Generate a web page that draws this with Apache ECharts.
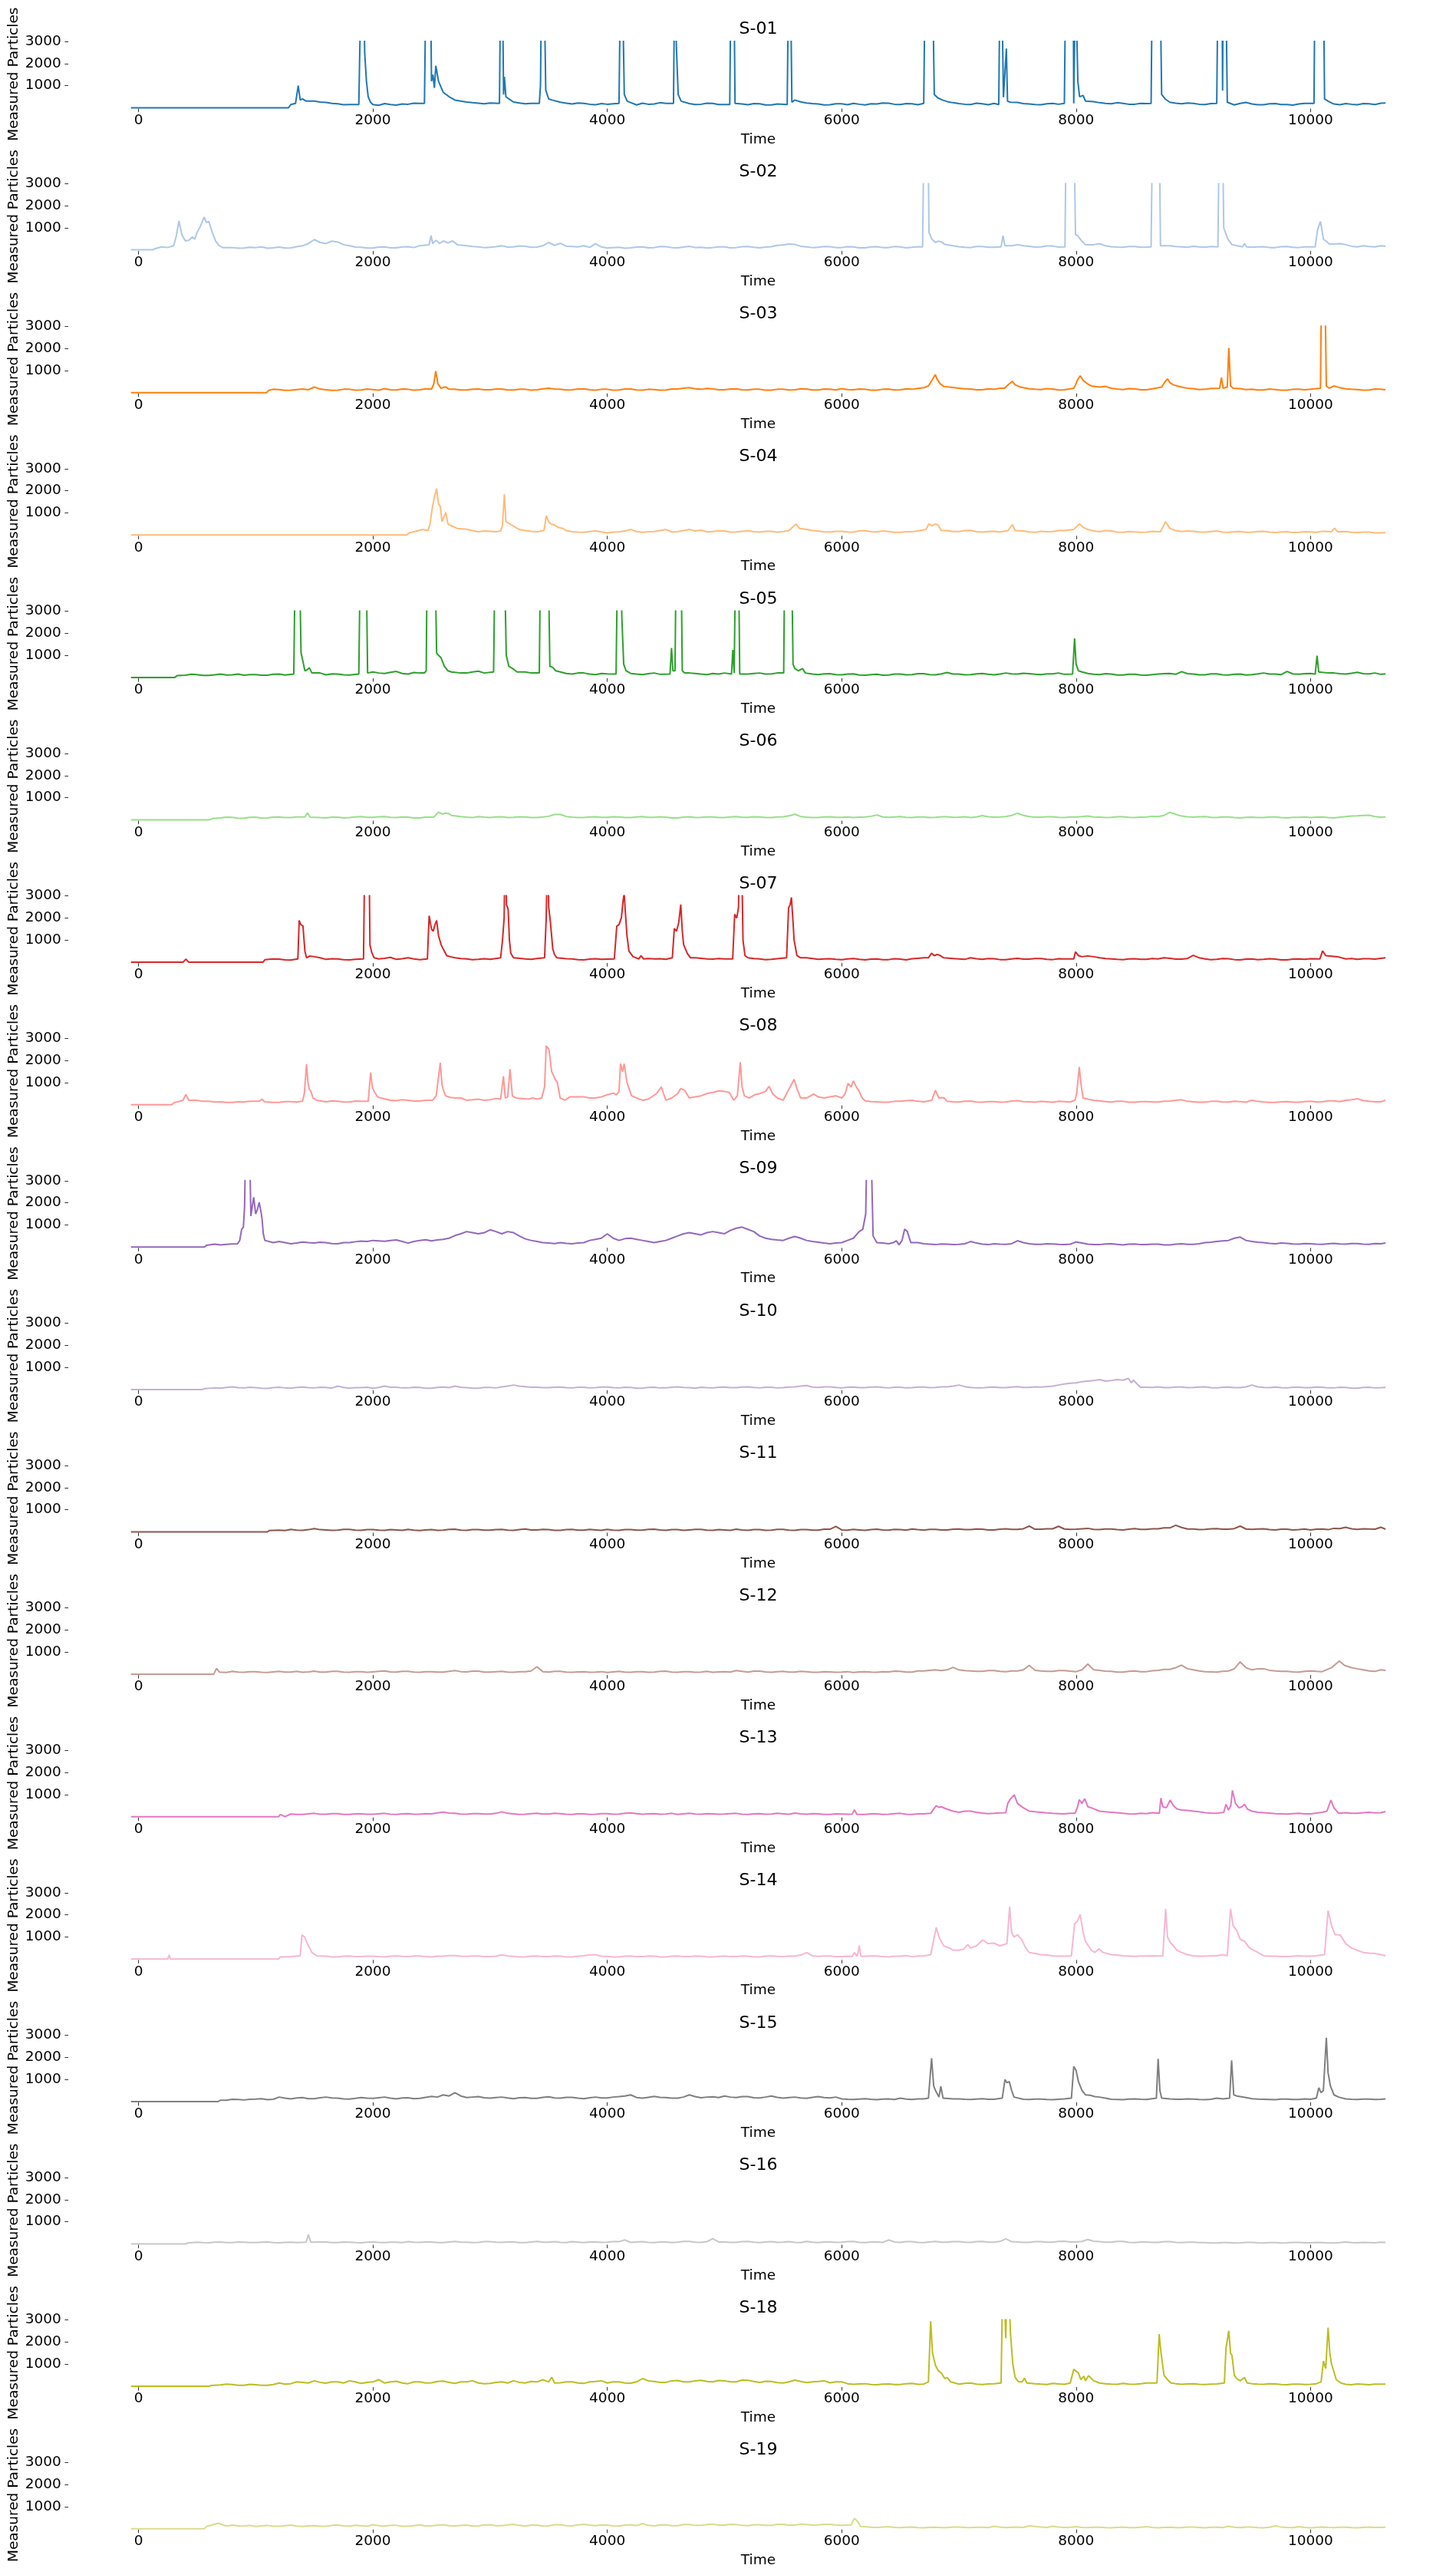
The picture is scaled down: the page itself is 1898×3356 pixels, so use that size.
<!DOCTYPE html>
<html><head><meta charset="utf-8">
<script src="https://cdn.jsdelivr.net/npm/echarts@6/dist/echarts.min.js"></script>
<style>html,body{margin:0;padding:0;background:#fff}#c{width:1898px;height:3356px}</style>
</head><body><div id="c"></div>
<script>
const seriesNames = ['S-01','S-02','S-03','S-04','S-05','S-06','S-07','S-08','S-09','S-10','S-11','S-12','S-13','S-14','S-15','S-16','S-18','S-19'];
const lineColors = ['#1f77b4','#aec7e8','#ff7f0e','#ffbb78','#2ca02c','#98df8a','#d62728','#ff9896','#9467bd','#c5b0d5','#8c564b','#c49c94','#e377c2','#f7b6d2','#7f7f7f','#c7c7c7','#bcbd22','#dbdb8d'];
const xTicks = [0,2000,4000,6000,8000,10000];
const yTicks = [1000,2000,3000];
const baseStep = 50; // base samples at Time = 0,50,...,10600 (one row = 1000 time units)

const s01Base = [
0,0,0,0,0,0,0,0,0,0,0,0,0,0,0,0,0,0,0,0,
0,0,0,0,0,0,150,200,380,330,300,260,240,200,180,140,150,190,150,150,
140,110,190,150,120,170,160,210,200,150,200,250,700,500,330,300,260,230,210,180,
220,170,400,330,260,220,180,200,140,180,300,280,250,210,170,220,200,160,140,190,
160,180,300,200,150,130,210,160,170,230,200,180,250,220,190,150,160,210,200,150,
150,130,200,170,140,190,180,130,130,170,200,160,350,270,220,190,170,130,140,180,
180,140,200,160,130,180,170,220,210,160,150,190,180,140,200,220,500,400,280,230,
190,160,150,210,180,140,200,170,300,300,240,190,170,150,140,180,200,160,200,200,
300,300,380,280,230,200,180,230,200,160,160,200,190,220,320,300,250,210,180,220,
200,160,150,190,200,160,160,130,200,240,170,140,140,180,190,150,150,120,170,200,
300,300,260,200,170,140,190,160,140,190,180,150,210];
const s01Events = [[-64,0],[1280,0],[1300,150],[1340,200],[1363,1000],[1380,350],[1400,400],[1430,300],
[1880,150],[1900,6000],[1920,6000],[1930,2500],[1945,1200],[1960,500],[1980,250],[2000,150],
[2440,200],[2453,6000],[2491,6000],[2500,1200],[2512,1500],[2525,900],[2537,1900],[2560,1200],[2600,700],[2650,500],[2700,350],
[3080,200],[3090,6000],[3105,6000],[3115,600],[3122,1400],[3135,500],[3160,400],
[3420,200],[3430,1000],[3440,6000],[3460,6000],[3475,800],[3500,400],[3530,350],
[4100,200],[4113,6000],[4128,6000],[4145,600],[4170,300],
[4565,200],[4575,6000],[4590,2700],[4605,600],[4630,300],
[5045,150],[5055,6000],[5080,6000],[5090,200],
[5535,150],[5547,6000],[5563,6000],[5575,250],[5600,350],
[6700,200],[6712,6000],[6775,6000],[6790,600],[6820,450],[6860,350],
[7340,150],[7351,6000],[7365,6000],[7380,480],[7392,500],[7405,2680],[7415,300],[7440,250],
[7900,200],[7911,6000],[7975,6000],[7980,200],[7995,6000],[8000,6000],[8015,1200],[8030,500],[8060,560],[8080,300],
[8640,200],[8650,6000],[8716,6000],[8730,600],[8760,400],
[9200,200],[9211,6000],[9245,6000],[9250,780],[9255,6000],[9277,6000],[9290,250],
[10030,200],[10038,6000],[10110,6000],[10120,400],[10150,300],[10640,220]];

const s02Base = [
20,20,100,120,170,150,200,700,420,450,800,1300,400,200,150,130,120,90,100,130,
120,150,90,110,140,100,110,160,200,300,480,350,300,410,370,250,200,140,130,100,
100,140,150,110,110,150,160,120,200,220,300,300,400,350,320,250,200,170,150,120,
130,160,200,140,150,190,180,130,140,200,350,220,310,180,170,150,200,130,290,150,
100,120,130,90,110,140,150,110,120,170,160,120,110,140,180,120,130,100,120,150,
150,110,120,160,170,130,110,140,160,220,240,280,260,180,150,120,130,170,160,120,
120,160,150,110,110,150,160,120,120,170,150,110,130,160,200,800,410,380,280,200,
160,130,120,170,170,130,130,150,200,200,250,200,180,140,150,190,190,140,200,200,
300,400,220,250,300,200,160,140,130,170,170,130,140,200,200,200,200,170,150,130,
180,150,130,170,200,200,400,300,250,160,130,150,160,120,120,160,170,130,120,150,
150,200,400,300,280,300,250,180,150,200,170,150,200];
const s02Events = [[-64,20],[120,20],[150,80],[200,150],[250,120],[300,200],[325,700],[345,1330],[370,700],[400,420],[430,450],[460,600],[480,500],[500,800],[530,1100],[560,1500],[580,1250],[600,1300],[630,800],[660,400],[690,200],[720,120],
[2480,250],[2496,660],[2510,300],[2540,450],[2570,300],[2600,420],[2640,330],[2680,420],[2720,250],
[6690,150],[6704,6000],[6735,6000],[6745,800],[6770,500],[6800,350],[6822,410],[6850,380],[6880,260],
[7360,150],[7377,660],[7392,200],
[7905,150],[7916,6000],[7980,6000],[7995,700],[8011,680],[8050,400],[8080,250],
[8640,150],[8653,6000],[8709,6000],[8720,200],
[9210,150],[9223,6000],[9247,6000],[9260,1000],[9295,500],[9330,250],[9420,150],[9437,300],[9455,150],
[10040,150],[10060,900],[10071,1100],[10085,1300],[10095,1000],[10110,500],[10135,400],[10160,280],[10640,180]];

const s03Base = [
0,0,0,0,0,0,0,0,0,0,0,0,0,0,0,0,0,0,0,0,
0,0,120,150,140,100,110,140,160,130,250,160,130,100,110,150,150,110,120,160,
140,110,180,130,120,160,150,110,130,170,150,300,200,230,150,120,120,150,160,130,
130,160,160,120,120,150,150,110,130,170,200,160,150,120,130,160,170,130,110,150,
150,110,120,160,160,120,110,150,140,110,120,160,160,200,220,170,150,190,170,130,
130,160,170,130,120,150,150,110,110,150,150,120,130,170,160,120,120,160,150,120,
180,140,130,160,150,110,110,150,160,120,130,170,150,190,220,250,300,350,300,230,
200,170,160,130,130,170,150,200,200,300,260,200,170,150,140,180,160,120,130,170,
200,400,400,350,250,280,200,160,140,180,170,130,130,170,200,250,400,500,250,200,
180,140,150,190,200,250,200,200,180,140,150,120,120,160,140,110,110,150,150,130,
150,180,200,250,300,220,170,150,140,110,120,160,150];
const s03Events = [[-64,0],[1094,0],[1110,100],[2500,150],[2520,400],[2536,970],[2555,400],[2580,200],[2620,260],[2650,150],
[6740,300],[6770,550],[6799,810],[6815,600],[6840,400],[6870,280],
[7390,200],[7420,350],[7456,510],[7480,350],[7520,260],
[7980,200],[7995,350],[8010,550],[8035,760],[8060,550],[8090,420],[8130,300],
[8730,250],[8760,500],[8780,620],[8800,450],[8830,350],
[9225,200],[9240,680],[9255,200],[9290,250],[9303,2020],[9318,300],[9340,200],
[10085,200],[10096,6000],[10120,6000],[10135,300],[10160,200],[10640,130]];

const s04Base = [
0,0,0,0,0,0,0,0,0,0,0,0,0,0,0,0,0,0,0,0,
0,0,0,0,0,0,0,0,0,0,0,0,0,0,0,0,0,0,0,0,
0,0,0,0,0,0,100,120,200,250,300,300,300,400,350,300,260,200,150,180,
170,150,200,300,300,250,200,170,150,200,300,500,300,220,150,130,120,160,180,140,
100,130,140,180,250,160,120,150,160,200,250,140,150,200,250,180,220,140,160,190,
180,130,140,170,190,150,130,170,170,130,160,250,300,400,250,200,180,140,140,170,
170,140,130,180,200,150,140,180,160,120,120,150,150,180,200,450,300,400,200,160,
160,200,210,150,130,160,170,140,200,350,150,180,140,120,170,150,160,200,200,180,
200,400,250,180,150,200,180,130,120,160,140,120,130,170,200,400,200,250,160,180,
170,140,130,160,180,130,120,150,160,120,130,160,170,130,110,140,150,110,120,150,
140,120,170,150,310,200,160,120,110,130,130,100,100];
const s04Events = [[-64,0],[2290,0],[2310,100],[2350,150],[2425,250],[2470,200],[2488,500],[2500,1000],[2520,1600],[2544,2100],[2560,1400],[2575,1300],[2590,600],[2605,800],[2623,1020],[2640,500],[2678,400],[2720,300],
[3090,180],[3105,400],[3122,1850],[3135,600],[3170,500],[3200,400],[3250,250],
[3460,200],[3479,870],[3500,600],[3518,500],[3550,450],[3580,350],[3620,300],[3650,200],
[5550,200],[5580,350],[5610,500],[5640,300],
[6720,250],[6743,500],[6770,420],[6800,500],[6822,450],[6850,200],
[7420,200],[7456,470],[7480,200],
[7980,250],[8027,510],[8060,350],
[8720,150],[8764,600],[8800,300],[8850,200],
[10180,150],[10206,310],[10230,150],[10640,110]];

const s05Base = [
0,0,0,0,0,0,0,60,100,140,130,90,90,120,150,110,120,150,100,130,
130,100,100,140,150,110,200,200,200,200,200,200,120,160,150,120,110,150,200,200,
250,200,180,230,270,180,150,220,200,200,200,200,200,250,300,200,200,250,280,200,
300,250,200,200,300,200,250,200,200,200,200,200,250,180,150,200,200,150,130,180,
160,200,200,200,180,150,130,170,200,140,150,200,200,200,200,180,150,130,180,150,
200,200,200,200,150,180,200,150,160,200,200,200,300,300,200,150,130,160,170,130,
120,150,160,110,100,130,140,100,110,150,150,120,130,170,170,130,120,160,220,150,
150,120,130,160,180,140,120,150,200,160,150,190,170,140,130,160,160,200,140,120,
200,200,180,140,130,170,150,110,110,140,140,110,100,130,150,170,180,140,260,170,
150,120,120,160,160,120,110,140,150,110,130,160,200,150,150,130,270,160,140,170,
180,150,250,200,200,170,150,190,230,170,160,200,140];
const s05Events = [[-64,0],[309,0],[330,80],
[1325,150],[1339,6000],[1371,6000],[1387,1120],[1400,800],[1420,300],[1440,350],[1458,435],[1480,200],
[1880,150],[1894,6000],[1941,6000],[1955,200],
[2440,200],[2455,300],[2464,6000],[2528,6000],[2544,1100],[2560,1000],[2580,900],[2610,500],[2640,300],[2670,250],
[3030,250],[3043,6000],[3120,6000],[3138,1000],[3160,500],[3193,400],[3230,250],
[3420,200],[3431,6000],[3495,6000],[3510,500],[3534,460],[3560,300],
[4075,150],[4089,6000],[4110,6000],[4125,2600],[4140,600],[4160,300],
[4535,150],[4548,1330],[4560,300],[4578,300],[4588,6000],[4628,6000],[4640,300],[4660,200],
[5060,150],[5071,1240],[5083,200],[5095,6000],[5119,6000],[5130,150],
[5505,200],[5515,6000],[5571,6000],[5585,600],[5600,400],[5630,300],[5666,400],[5690,200],
[7970,150],[7987,1760],[8000,600],[8020,300],[8050,250],
[10040,150],[10056,980],[10070,250],[10640,160]];

const s06Base = [
0,0,0,0,0,0,0,0,0,0,0,0,0,60,90,120,110,70,80,110,
120,80,90,120,130,100,100,130,150,200,130,100,90,120,120,90,100,130,150,110,
110,140,150,110,100,130,120,90,90,120,150,350,300,260,200,150,120,100,150,120,
100,130,140,100,110,140,130,100,100,130,160,240,240,150,120,100,100,130,140,110,
110,140,130,100,100,130,150,110,110,140,120,90,90,120,140,100,110,130,130,100,
100,130,150,110,110,140,130,100,100,130,140,180,250,150,120,100,100,130,140,110,
110,130,100,120,130,160,220,130,110,130,150,110,100,130,130,100,110,140,140,110,
120,140,100,130,190,140,120,130,150,200,300,200,150,120,120,140,140,110,100,130,
130,150,170,130,120,100,110,140,140,110,100,120,130,160,150,200,340,250,170,140,
120,140,150,110,100,130,130,100,90,110,120,100,100,130,130,100,90,110,110,130,
100,120,130,100,90,120,150,170,180,200,210,150,120];
const s06Events = [[-64,0],[610,0],[630,60],[1420,130],[1442,310],[1465,120],[2520,120],[2560,350],[2590,260],[2620,300],[2647,280],[2670,200],[10640,130]];

const s07Base = [
0,0,0,0,0,0,0,0,0,0,0,0,0,0,0,0,0,0,0,0,
0,0,120,150,140,110,100,130,200,250,250,200,130,160,150,120,110,130,150,150,
200,150,180,220,130,160,200,150,120,160,150,200,200,300,200,170,150,120,130,160,
130,170,200,200,200,180,150,130,170,200,200,200,130,160,150,120,110,140,160,130,
140,150,200,200,200,200,300,170,150,160,130,150,200,200,200,200,180,150,140,170,
150,130,200,200,200,170,150,120,130,160,200,200,200,200,200,170,130,150,160,130,
120,150,170,130,110,140,150,120,120,160,140,110,160,180,200,250,300,350,200,170,
150,130,200,160,130,170,160,120,120,150,180,140,140,170,170,130,120,160,150,170,
200,300,285,250,200,170,150,130,120,150,160,130,130,170,150,200,180,140,140,170,
310,200,150,120,130,170,160,120,110,140,150,120,130,160,140,110,110,140,150,130,
160,130,200,200,200,250,150,170,130,160,160,140,180];
const s07Events = [[-64,0],[380,0],[404,140],[430,0],[1062,0],[1080,120],
[1360,150],[1371,1890],[1385,1700],[1403,1650],[1420,500],[1434,200],[1460,280],
[1920,150],[1933,6000],[1965,6000],[1975,780],[1990,450],[2010,200],
[2465,150],[2480,2100],[2500,1500],[2515,1400],[2530,1700],[2544,1890],[2560,1200],[2583,780],[2600,600],[2630,300],[2660,250],
[3090,200],[3106,1000],[3120,2000],[3130,6000],[3140,2600],[3154,2400],[3165,1000],[3177,400],[3200,200],
[3465,200],[3479,2000],[3492,6000],[3500,2500],[3515,1800],[3535,600],[3550,350],[3570,200],
[4060,150],[4081,1630],[4100,1700],[4120,2000],[4135,2800],[4144,3100],[4155,2200],[4168,1200],[4185,500],[4220,250],
[4270,150],[4287,300],[4310,150],
[4555,200],[4572,1530],[4590,1400],[4610,1800],[4627,2610],[4640,1400],[4651,800],[4683,400],[4710,200],
[5070,150],[5087,2170],[5105,2000],[5120,2500],[5127,6000],[5143,6000],[5158,1000],[5175,300],[5200,200],
[5530,200],[5547,2460],[5560,2600],[5571,2930],[5585,1800],[5594,1000],[5618,300],[5650,200],
[6740,200],[6767,410],[6790,300],[6815,350],[6838,310],[6870,200],
[7980,150],[7995,470],[8020,300],[8050,250],
[10080,150],[10103,510],[10130,300],[10230,250],[10640,200]];

const s08Base = [
0,0,0,0,0,0,80,120,200,460,200,150,150,120,130,100,100,130,120,150,
150,200,130,100,100,140,140,120,200,200,200,200,130,170,150,120,120,160,150,150,
300,300,250,200,180,220,200,160,160,200,200,300,300,400,300,300,200,220,250,200,
220,280,300,300,300,300,300,250,250,300,300,300,300,300,300,350,350,300,300,350,
450,500,500,500,400,300,200,250,350,500,200,300,500,500,400,350,400,500,550,600,
600,550,400,400,300,400,500,500,600,600,200,300,500,800,300,300,350,300,350,400,
300,500,500,800,170,140,130,110,110,150,150,180,200,150,130,200,200,300,160,130,
120,150,160,120,110,140,140,110,120,160,180,140,130,110,150,130,110,150,140,120,
200,400,250,200,170,140,120,150,150,110,110,140,140,120,120,150,160,200,220,150,
130,110,110,150,150,120,120,150,140,110,200,150,120,100,100,130,140,110,110,140,
150,120,130,170,170,140,200,220,270,180,150,130,130];
const s08Events = [[-64,0],[285,0],[300,80],[380,200],[404,460],[430,200],
[1030,150],[1054,250],[1075,130],
[1400,150],[1415,500],[1434,1830],[1446,1000],[1458,700],[1470,600],[1490,300],[1520,200],
[1960,150],[1981,1450],[1995,800],[2010,600],[2040,350],[2068,300],
[2510,200],[2540,400],[2575,1890],[2590,900],[2599,700],[2620,400],[2660,330],[2702,300],
[3090,250],[3114,1290],[3130,300],[3150,350],[3170,1610],[3190,400],[3220,300],
[3330,250],[3360,300],[3400,250],[3440,300],[3465,800],[3479,2660],[3502,2500],[3525,1500],[3550,1200],[3574,1000],[3598,300],[3640,200],[3680,350],
[4050,520],[4080,450],[4100,600],[4113,1850],[4130,1500],[4144,1850],[4168,1000],[4207,400],[4250,300],
[4420,500],[4461,800],[4480,500],[4500,200],[4550,300],[4600,500],[4628,730],[4660,650],[4700,300],
[4953,620],[5040,550],[5080,200],[5110,400],[5135,1920],[5150,800],[5170,400],[5210,300],[5260,450],[5300,500],[5350,600],[5380,830],[5410,500],[5450,300],[5500,200],[5530,500],[5560,800],[5594,1140],[5620,700],[5650,300],
[5761,480],[5800,350],[5850,300],
[5950,400],[6000,300],[6030,500],[6054,960],[6080,800],[6100,1080],[6125,800],[6149,600],[6175,300],[6200,170],
[6770,200],[6799,650],[6830,300],[6870,320],[6900,150],
[7990,200],[8005,500],[8027,1700],[8045,800],[8060,300],[10640,200]];

const s09Base = [
0,0,0,0,0,0,0,0,0,0,0,0,100,130,100,120,140,150,200,200,
300,300,280,200,250,200,150,180,230,200,180,220,200,160,150,200,200,240,270,250,
300,280,260,300,320,250,180,250,300,330,280,320,350,400,520,600,700,650,600,650,
780,700,600,700,650,500,370,300,250,200,180,160,200,170,150,180,200,300,350,400,
600,400,300,380,400,350,300,250,200,250,300,400,500,600,650,600,550,650,700,650,
600,750,850,900,800,700,500,400,350,320,300,400,480,400,300,250,220,180,150,180,
200,300,400,700,300,500,200,180,150,170,200,250,200,200,150,130,110,140,130,110,
120,150,250,180,130,110,150,130,120,150,285,200,150,120,120,150,140,120,110,130,
230,180,130,110,110,140,150,120,100,130,140,110,110,130,130,100,100,130,150,120,
120,150,200,220,250,280,300,400,450,300,250,220,200,170,150,180,170,140,130,160,
150,130,120,150,170,140,130,160,160,130,120,160,150];
const s09Events = [[-64,0],[563,0],[580,80],
[845,150],[864,300],[880,800],[895,900],[905,1800],[919,6000],[943,6000],[959,1400],[970,1800],[983,2250],[1000,1500],[1015,1700],[1030,2020],[1045,1600],[1054,1300],[1065,600],[1078,300],
[6100,400],[6149,700],[6180,800],[6205,1500],[6220,6000],[6244,6000],[6268,500],[6300,200],
[6440,200],[6466,285],[6490,100],[6515,300],[6537,810],[6560,700],[6590,200],[10640,180]];

const s10Base = [
0,0,0,0,0,0,0,0,0,0,0,0,90,70,60,90,120,80,70,100,
80,60,50,80,100,70,60,90,110,80,70,100,90,60,150,90,60,80,80,100,
60,90,150,100,100,70,70,100,90,60,60,90,110,80,150,100,80,60,60,90,
90,70,120,150,200,150,130,100,100,80,80,100,110,80,70,100,100,70,80,110,
110,80,70,100,90,60,60,90,100,70,70,100,120,90,80,60,100,80,70,100,
110,80,80,110,120,90,70,100,100,70,80,110,120,150,180,110,90,120,120,90,
70,100,110,80,80,110,120,90,70,100,100,70,80,110,110,80,90,120,120,150,
200,130,90,70,70,100,110,80,80,110,130,90,90,120,110,130,150,200,250,280,
300,350,380,400,450,380,400,450,420,500,300,150,100,90,120,80,80,110,110,80,
90,110,120,80,70,100,110,80,80,120,200,120,90,80,110,80,70,100,100,80,
80,110,100,70,70,100,90,60,60,90,100,70,80];
const s10Events = [[-64,0],[547,0],[565,40],[8447,500],[8470,300],[8490,420],[8520,250],[8550,100],[10640,90]];

const s11Base = [
0,0,0,0,0,0,0,0,0,0,0,0,0,0,0,0,0,0,0,0,
0,0,60,90,80,60,110,80,70,100,150,100,90,70,80,110,110,80,70,100,
100,80,70,100,90,70,110,80,60,90,100,70,80,110,120,80,70,100,100,80,
80,100,110,80,70,100,130,90,90,110,100,70,70,100,110,80,80,110,90,70,
110,80,70,100,100,80,80,110,120,90,70,100,100,70,90,110,110,80,70,100,
90,70,120,90,70,100,100,70,80,110,110,80,70,100,100,80,80,120,120,250,
90,80,110,90,70,100,120,90,80,110,100,80,130,100,80,110,110,90,90,120,
130,100,100,130,120,90,90,120,140,110,110,140,260,120,120,140,140,250,130,110,
120,140,160,110,100,130,130,100,90,120,150,110,110,140,140,180,180,300,200,130,
130,100,110,140,150,120,120,150,260,130,110,130,140,100,90,120,120,90,100,130,
90,120,130,100,160,150,210,140,110,140,130,120,210];
const s11Events = [[-64,0],[1101,0],[1115,60],[10640,120]];

const s12Base = [
0,0,0,0,0,0,0,0,0,0,0,0,0,0,100,80,130,100,90,120,
120,90,80,110,130,100,100,130,90,110,140,100,100,130,130,100,90,120,120,90,
110,130,150,110,100,130,130,100,90,120,120,100,100,130,170,120,110,140,140,100,
100,120,130,100,90,120,120,150,340,120,100,130,130,100,90,110,120,90,100,120,
80,110,130,100,90,120,120,90,100,130,140,100,90,120,120,90,100,130,90,110,
120,100,170,130,100,140,140,110,90,120,130,100,100,130,120,90,90,120,110,90,
100,120,80,110,120,100,90,120,110,140,130,100,100,150,150,180,200,170,200,310,
200,170,150,130,130,170,170,130,120,150,150,200,400,180,150,130,130,170,170,140,
120,200,460,200,180,140,130,100,100,130,150,120,120,160,180,220,220,300,410,250,
200,150,120,110,100,130,150,250,560,300,200,250,250,180,150,130,130,110,100,130,
150,130,120,150,300,400,400,300,250,200,150,130,200];
const s12Events = [[-64,0],[642,0],[666,270],[690,100],[10180,300],[10246,600],[10290,400],[10350,300],[10640,180]];

const s13Base = [
0,0,0,0,0,0,0,0,0,0,0,0,0,0,0,0,0,0,0,0,
0,0,0,0,0,0,120,100,100,130,150,110,110,140,140,100,100,130,130,110,
110,130,150,110,100,130,140,110,110,140,130,170,210,160,150,120,110,140,140,120,
120,150,220,150,130,100,110,140,150,120,120,150,140,110,100,130,130,100,110,140,
140,110,120,150,170,140,110,130,140,110,120,150,100,130,150,120,110,140,130,110,
120,140,150,110,100,130,140,110,120,150,130,110,160,130,110,140,130,100,100,130,
120,110,150,120,100,130,130,100,110,140,150,110,100,130,130,120,300,300,300,250,
200,220,250,200,160,140,150,170,200,180,300,300,250,220,200,170,150,140,130,150,
200,300,400,300,250,220,200,180,150,130,120,150,140,180,200,300,400,400,300,280,
250,220,180,160,150,200,300,300,400,300,250,200,180,160,140,130,120,140,150,130,
130,160,200,250,300,250,180,150,150,180,200,170,180];
const s13Events = [[-64,0],[1196,0],[1210,100],[6090,120],[6109,310],[6130,100],
[6760,150],[6785,350],[6807,500],[6830,420],[6850,450],[6880,380],[6920,300],[6950,250],[7050,250],
[7400,180],[7417,600],[7440,800],[7472,990],[7500,600],[7550,400],[7600,250],
[7990,150],[8010,400],[8027,770],[8050,600],[8074,810],[8100,450],[8130,400],[8200,250],
[8710,150],[8724,840],[8740,450],[8770,400],[8803,750],[8830,500],[8860,350],
[9260,200],[9279,560],[9300,300],[9320,500],[9334,1190],[9360,600],[9390,400],[9415,450],[9437,560],[9460,350],[9500,250],
[10140,250],[10174,750],[10200,400],[10240,150],[10640,230]];

const s14Base = [
0,0,0,0,0,0,0,0,0,0,0,0,0,0,0,0,0,0,0,0,
0,0,0,0,0,100,110,130,200,200,200,150,130,100,100,130,140,110,110,130,
130,110,100,130,150,120,110,140,140,110,100,130,130,160,160,130,120,140,140,110,
110,130,190,140,120,100,100,130,140,110,110,140,130,100,100,130,150,190,190,130,
120,100,100,130,140,110,110,140,130,100,100,130,140,110,110,140,130,100,100,120,
140,110,110,140,130,100,100,130,150,120,110,140,130,180,290,150,120,140,140,110,
110,130,150,300,110,140,140,110,100,130,130,160,110,140,140,200,200,500,500,500,
400,450,500,600,800,700,700,700,700,700,900,500,300,250,200,180,150,130,130,150,
150,700,800,400,300,470,200,180,150,140,120,140,140,150,140,700,800,400,300,200,
150,130,130,150,150,200,200,1500,900,800,500,400,150,130,130,110,110,130,150,130,
130,150,200,1000,1100,1090,700,500,400,300,270,250,200];
const s14Events = [[-64,0],[250,0],[261,190],[272,0],[1196,0],[1210,100],
[1380,150],[1395,1090],[1418,1000],[1440,700],[1480,300],[1520,150],
[6090,120],[6109,300],[6130,120],[6140,300],[6149,600],[6165,120],
[6760,200],[6790,1000],[6807,1430],[6830,1000],[6870,600],[6920,500],[6950,400],
[7040,450],[7076,660],[7100,500],[7150,600],[7203,870],[7250,700],[7298,720],[7350,600],[7410,700],[7433,2370],[7450,1200],[7470,1000],[7500,1100],[7535,900],[7570,500],[7600,300],
[7960,150],[7987,1590],[8010,1700],[8035,2020],[8060,1200],[8080,800],[8130,400],[8160,300],[8194,470],[8230,300],
[8740,150],[8764,2270],[8780,1000],[8800,780],[8830,600],[8860,400],
[9290,150],[9318,2270],[9340,1500],[9370,1300],[9400,900],[9437,800],[9480,500],[9550,300],[9600,150],
[10120,200],[10150,2190],[10180,1500],[10210,1100],[10254,1090],[10300,700],[10350,500],[10450,300],[10550,250],[10640,150]];

const s15Base = [
0,0,0,0,0,0,0,0,0,0,0,0,0,0,80,60,100,90,70,100,
110,130,80,100,200,150,120,160,180,130,130,170,200,160,150,120,110,140,180,150,
140,170,200,150,120,160,170,130,140,190,230,200,300,250,400,250,180,200,220,170,
150,180,200,160,130,170,180,140,140,190,210,160,150,190,190,150,130,170,200,160,
160,200,220,250,300,180,150,190,230,190,180,150,150,200,300,220,170,200,210,180,
250,200,180,220,220,170,160,200,250,190,150,180,200,160,140,190,220,180,160,200,
120,100,90,110,130,100,80,110,120,90,150,110,90,120,120,150,200,200,100,120,
120,100,90,110,130,100,100,120,200,200,120,100,90,110,110,90,80,100,120,100,
200,200,250,250,200,150,100,90,80,110,120,100,90,110,200,200,120,100,100,120,
110,90,80,100,150,120,200,200,250,180,130,110,100,90,80,110,110,90,90,120,
100,150,200,200,200,150,120,100,90,110,110,90,100];
const s15Events = [[-64,0],[681,0],[700,60],
[6740,150],[6767,1950],[6785,700],[6800,500],[6830,200],[6846,680],[6865,150],
[7370,150],[7393,990],[7410,850],[7430,900],[7450,500],[7470,200],
[7960,150],[7980,1580],[8000,1400],[8020,900],[8050,500],[8080,300],[8120,280],[8160,220],
[8685,150],[8700,1930],[8715,500],[8730,150],
[9310,150],[9327,1860],[9345,300],[9370,250],
[10050,150],[10071,620],[10090,400],[10110,500],[10135,2880],[10150,1300],[10170,700],[10200,300],[10240,200],[10640,120]];

const s16Base = [
0,0,0,0,0,0,0,0,0,60,80,60,50,80,90,60,60,90,80,60,
60,80,90,60,50,70,80,60,100,100,70,90,90,60,60,90,80,60,50,80,
90,70,60,80,80,60,100,80,70,90,90,60,60,90,110,80,80,60,70,100,
100,80,70,90,90,60,60,90,110,80,80,100,70,60,100,80,60,90,90,70,
80,100,100,180,70,90,100,70,60,90,90,60,80,110,110,80,70,100,240,90,
90,70,70,100,110,80,60,90,100,70,80,100,70,60,110,80,60,90,90,70,
80,100,110,70,60,90,90,70,180,90,70,100,100,70,60,90,110,80,80,100,
100,80,70,100,110,80,80,110,230,100,90,70,70,100,100,80,80,110,120,90,
90,110,200,120,100,80,80,110,110,70,60,90,90,70,70,100,100,70,60,80,
80,60,60,40,40,60,60,40,50,70,70,50,40,60,60,40,50,70,70,50,
50,70,60,40,40,60,90,60,50,70,60,50,80];
const s16Events = [[-64,0],[404,0],[420,40],[1430,80],[1450,420],[1470,80],[10640,70]];

const s18Base = [
0,0,0,0,0,0,0,0,0,0,0,0,0,40,60,100,80,50,50,90,
70,50,50,80,150,100,120,200,180,150,250,180,140,200,200,150,250,200,130,180,
200,300,150,200,230,150,120,200,200,150,160,220,240,180,130,200,200,250,150,120,
130,180,200,150,250,180,150,220,200,300,200,200,160,200,200,150,130,200,220,250,
150,200,200,150,140,200,350,250,220,180,180,250,260,200,200,250,270,220,200,260,
250,200,200,280,270,220,180,230,220,170,150,200,280,220,170,200,220,250,160,200,
200,120,90,110,120,80,70,100,110,80,80,120,130,90,100,150,200,200,300,200,
100,130,150,100,80,110,120,150,200,200,300,200,150,120,100,80,130,110,90,120,
200,300,250,250,150,120,100,90,130,100,90,120,150,150,150,200,150,120,90,110,
120,90,80,100,110,150,200,200,300,250,120,100,90,120,110,80,70,100,100,80,
90,120,200,200,200,150,90,70,110,90,70,100,100];
const s18Events = [[-64,0],[602,0],[620,40],[3500,200],[3526,410],[3550,150],
[6740,200],[6759,2940],[6775,1500],[6800,950],[6825,700],[6850,600],[6880,350],[6900,400],[6930,200],
[7360,150],[7377,6000],[7400,2170],[7417,6000],[7440,2400],[7460,1000],[7480,400],[7510,200],[7540,200],[7559,370],[7580,150],
[7950,150],[7980,770],[8020,600],[8040,300],[8066,460],[8080,250],[8106,480],[8150,250],
[8690,150],[8709,2360],[8725,1500],[8750,500],[8780,300],[8810,150],
[9265,150],[9279,1720],[9303,2510],[9318,1500],[9330,1400],[9350,500],[9370,350],[9400,250],[9437,400],[9460,150],
[10090,200],[10111,1140],[10130,800],[10150,2650],[10165,1500],[10180,1000],[10220,300],[10260,150],[10640,100]];

const s19Base = [
0,0,0,0,0,0,0,0,0,0,0,0,100,250,150,120,160,130,120,150,
100,130,150,110,110,140,160,120,100,130,140,110,110,150,170,130,120,150,140,110,
180,140,120,150,150,110,110,140,170,130,130,160,180,140,120,150,160,120,130,170,
180,140,140,170,200,150,120,160,160,120,130,180,180,140,130,170,200,160,140,170,
160,130,120,160,180,140,230,150,130,170,180,140,140,190,190,150,150,190,210,160,
160,200,190,150,140,180,180,150,150,200,200,160,160,210,190,160,170,200,200,170,
150,170,200,200,90,70,60,80,90,60,50,70,80,50,40,60,70,50,50,80,
80,60,50,70,70,50,110,80,50,70,80,60,130,100,80,60,110,80,60,70,
90,60,50,70,70,50,40,60,80,50,50,70,90,60,40,60,70,50,50,80,
80,60,40,70,70,50,110,70,50,80,80,50,40,70,130,80,60,50,90,60,
40,60,80,60,50,70,70,50,40,60,80,60,60];
const s19Events = [[-64,0],[563,0],[580,100],[680,250],[6080,170],[6109,470],[6140,300],[6160,100],[10640,70]];

const bases = [s01Base,s02Base,s03Base,s04Base,s05Base,s06Base,s07Base,s08Base,s09Base,s10Base,s11Base,s12Base,s13Base,s14Base,s15Base,s16Base,s18Base,s19Base];
const events = [s01Events,s02Events,s03Events,s04Events,s05Events,s06Events,s07Events,s08Events,s09Events,s10Events,s11Events,s12Events,s13Events,s14Events,s15Events,s16Events,s18Events,s19Events];

function mergeSeries(base, ev) {
  const pts = ev.map(p => [p[0], p[1]]);
  base.forEach((v, i) => {
    const t = i * baseStep;
    if (!ev.some(p => Math.abs(p[0] - t) <= 35)) pts.push([t, v]);
  });
  pts.sort((a, b) => a[0] - b[0]);
  return pts;
}

const FONT = '"DejaVu Sans", "Liberation Sans", sans-serif';
const L = 89, R = 1888, TOP0 = 54, PITCH = 185.6, H = 87.5;
const X_MIN = -599, X_MAX = 11176, Y_MIN = -35, Y_MAX = 3000;
const plain = v => String(v);

const grids = [], xAxes = [], yAxes = [], series = [], graphics = [];
seriesNames.forEach((name, i) => {
  const top = TOP0 + PITCH * i;
  grids.push({ left: L, top: top, width: R - L, height: H });
  xAxes.push({
    type: 'value', gridIndex: i, min: X_MIN, max: X_MAX,
    axisLine: { show: false, onZero: false }, splitLine: { show: false },
    axisTick: { show: true, customValues: xTicks, length: 4.6, lineStyle: { color: '#333', width: 1 } },
    axisLabel: { customValues: xTicks, formatter: plain, margin: 6, fontFamily: FONT, fontSize: 18.5, color: '#000' }
  });
  yAxes.push({
    type: 'value', gridIndex: i, min: Y_MIN, max: Y_MAX,
    axisLine: { show: false, onZero: false }, splitLine: { show: false },
    axisTick: { show: true, customValues: yTicks, length: 4.6, lineStyle: { color: '#333', width: 1 } },
    axisLabel: { customValues: yTicks, formatter: plain, margin: 9.2, fontFamily: FONT, fontSize: 18.5, color: '#000' }
  });
  series.push({
    type: 'line', name: name, xAxisIndex: i, yAxisIndex: i,
    data: mergeSeries(bases[i], events[i]),
    showSymbol: false, symbol: 'none', clip: true, silent: true,
    lineStyle: { width: 2, color: lineColors[i] }, itemStyle: { color: lineColors[i] }
  });
  graphics.push({ type: 'text', x: (L + R) / 2, y: 38.5 + PITCH * i,
    style: { text: name, font: '22px ' + FONT, fill: '#000', textAlign: 'center', textVerticalAlign: 'middle' } });
  graphics.push({ type: 'text', x: (L + R) / 2, y: 181.7 + PITCH * i,
    style: { text: 'Time', font: '18.5px ' + FONT, fill: '#000', textAlign: 'center', textVerticalAlign: 'middle' } });
  graphics.push({ type: 'text', x: 18.5, y: 96.7 + PITCH * i, rotation: Math.PI / 2,
    style: { text: 'Measured Particles', font: '18.5px ' + FONT, fill: '#000', textAlign: 'center', textVerticalAlign: 'middle' } });
});

const chart = echarts.init(document.getElementById('c'), null, { renderer: 'canvas' });
chart.setOption({
  backgroundColor: '#ffffff',
  animation: false,
  grid: grids, xAxis: xAxes, yAxis: yAxes, series: series,
  graphic: graphics
});
</script>
</body></html>
